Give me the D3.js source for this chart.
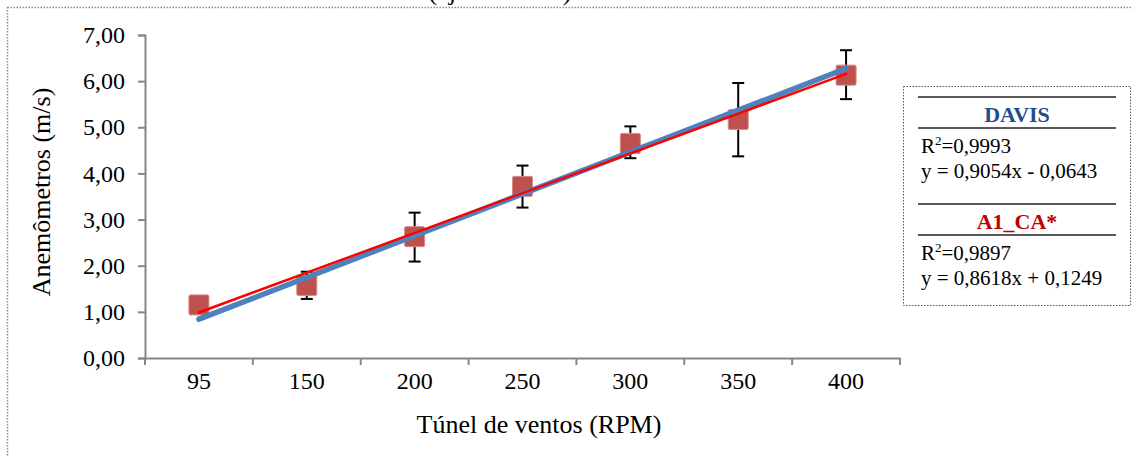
<!DOCTYPE html>
<html>
<head>
<meta charset="utf-8">
<script src="https://d3js.org/d3.v7.min.js"></script>
<style>
  body { margin: 0; background: #fff; }
  svg { display: block; font-family: "Liberation Serif", "Times New Roman", serif; }
</style>
</head>
<body>
<div id="vis-container"></div>
<script>
// categories (wind tunnel RPM) and measured values
const categories = ["95", "150", "200", "250", "300", "350", "400"];
const a1Values = [1.15, 1.57, 2.63, 3.72, 4.65, 5.17, 6.13];
const errLow = [1.12, 1.28, 2.09, 3.26, 4.33, 4.37, 5.61];
const errHigh = [1.18, 1.87, 3.15, 4.17, 5.02, 5.96, 6.67];
const yTicks = [0, 1, 2, 3, 4, 5, 6, 7];

// trend lines: [slope, intercept] on category index 1..n
const trendNames = ["DAVIS", "A1_CA*"];
const trendCoef = [[0.9054, -0.0643], [0.8618, 0.1249]];
const trendR2 = ["0,9993", "0,9897"];
const trendEq = ["y = 0,9054x - 0,0643", "y = 0,8618x + 0,1249"];

const width = 1132, height = 456;
const margin = { left: 145, right: 232, top: 35, bottom: 98 };

const svg = d3.select("#vis-container")
  .append("svg")
  .attr("width", width)
  .attr("height", height);

// outer dotted frame (extends past the window on right/bottom)
svg.append("rect")
  .attr("x", 7.5).attr("y", 7.5)
  .attr("width", 1140).attr("height", 470)
  .attr("fill", "none")
  .attr("stroke", "#8c8c8c")
  .attr("stroke-width", 1.5)
  .attr("stroke-dasharray", "1.5,1.5");

// title, cut off by the top edge as in the source
svg.append("text")
  .attr("x", 500).attr("y", 0)
  .attr("text-anchor", "middle")
  .attr("font-size", 26)
  .text("(ajustamento)");

const x = d3.scaleBand()
  .domain(categories)
  .range([margin.left, 900]);

const y = d3.scaleLinear()
  .domain([0, 7])
  .range([height - margin.bottom, margin.top]);

const fmt = d => d3.format(".2f")(d).replace(".", ",");

// y axis
const yAxis = svg.append("g")
  .attr("transform", `translate(${margin.left},0)`)
  .call(d3.axisLeft(y).tickValues(yTicks).tickFormat(fmt).tickSize(7).tickPadding(13));
yAxis.selectAll("line, path").attr("stroke", "#868686").attr("stroke-width", 2);
yAxis.selectAll("text").attr("font-size", 24).attr("fill", "#000")
  .attr("font-family", "Liberation Serif");

// x axis (ticks on band boundaries)
const xAxis = svg.append("g")
  .attr("transform", `translate(0,${y(0)})`)
  .call(d3.axisBottom(x).tickSize(0).tickPadding(14));
xAxis.select("path").attr("stroke", "#868686").attr("stroke-width", 2);
xAxis.selectAll("text").attr("font-size", 24).attr("fill", "#000")
  .attr("font-family", "Liberation Serif");
const bounds = categories.map(c => x(c)).concat([x.range()[1]]);
xAxis.selectAll(".bnd")
  .data(bounds)
  .enter().append("line")
  .attr("x1", d => d).attr("x2", d => d)
  .attr("y1", 0).attr("y2", 7)
  .attr("stroke", "#868686").attr("stroke-width", 2);

// axis titles
svg.append("text")
  .attr("x", 539).attr("y", 433)
  .attr("text-anchor", "middle")
  .attr("font-size", 26)
  .text("Túnel de ventos (RPM)");
svg.append("text")
  .attr("transform", "translate(50,192) rotate(-90)")
  .attr("text-anchor", "middle")
  .attr("font-size", 26)
  .text("Anemômetros (m/s)");

const cx = c => x(c) + x.bandwidth() / 2;

// error bars
const eb = svg.append("g").attr("stroke", "#000").attr("stroke-width", 2);
categories.forEach((c, i) => {
  eb.append("line").attr("x1", cx(c)).attr("x2", cx(c))
    .attr("y1", y(errLow[i])).attr("y2", y(errHigh[i]));
  [errLow[i], errHigh[i]].forEach(v => {
    eb.append("line").attr("x1", cx(c) - 6).attr("x2", cx(c) + 6)
      .attr("y1", y(v)).attr("y2", y(v));
  });
});

// markers
svg.append("g").selectAll("rect")
  .data(categories)
  .enter().append("rect")
  .attr("x", c => cx(c) - 10)
  .attr("y", (c, i) => y(a1Values[i]) - 10)
  .attr("width", 20).attr("height", 20)
  .attr("rx", 1.5)
  .attr("fill", "#c0504d")
  .attr("stroke", "#d98a88")
  .attr("stroke-width", 1);

// trend lines
const trendStyle = [
  { color: "#4f81bd", w: 5.5 },
  { color: "#ff0000", w: 2.5 }
];
trendCoef.forEach((k, j) => {
  const pts = [1, categories.length].map(n => [cx(categories[n - 1]), y(k[0] * n + k[1])]);
  svg.append("path")
    .attr("d", d3.line()(pts))
    .attr("stroke", trendStyle[j].color)
    .attr("stroke-width", trendStyle[j].w)
    .attr("stroke-linecap", "round")
    .attr("fill", "none");
});

// legend box
const lg = svg.append("g");
lg.append("rect")
  .attr("x", 903.5).attr("y", 86.5)
  .attr("width", 227).attr("height", 219)
  .attr("fill", "#fff")
  .attr("stroke", "#555")
  .attr("stroke-width", 1)
  .attr("stroke-dasharray", "1.5,1.5");

const headColors = ["#1f4e8c", "#c00000"];
trendNames.forEach((name, j) => {
  const top = 97 + j * 107;
  [top, top + 31].forEach(ly => {
    lg.append("line").attr("x1", 918).attr("x2", 1116)
      .attr("y1", ly).attr("y2", ly)
      .attr("stroke", "#222").attr("stroke-width", 1.5);
  });
  lg.append("text")
    .attr("x", 1017).attr("y", top + 25)
    .attr("text-anchor", "middle")
    .attr("font-size", 22).attr("font-weight", "bold")
    .attr("fill", headColors[j])
    .text(name);
  const r2 = lg.append("text")
    .attr("x", 921).attr("y", top + 56)
    .attr("font-size", 21);
  r2.append("tspan").text("R");
  r2.append("tspan").attr("font-size", 13).attr("dy", -8).text("2");
  r2.append("tspan").attr("dy", 8).text("=" + trendR2[j]);
  lg.append("text")
    .attr("x", 921).attr("y", top + 81)
    .attr("font-size", 21)
    .text(trendEq[j]);
});
</script>
</body>
</html>
